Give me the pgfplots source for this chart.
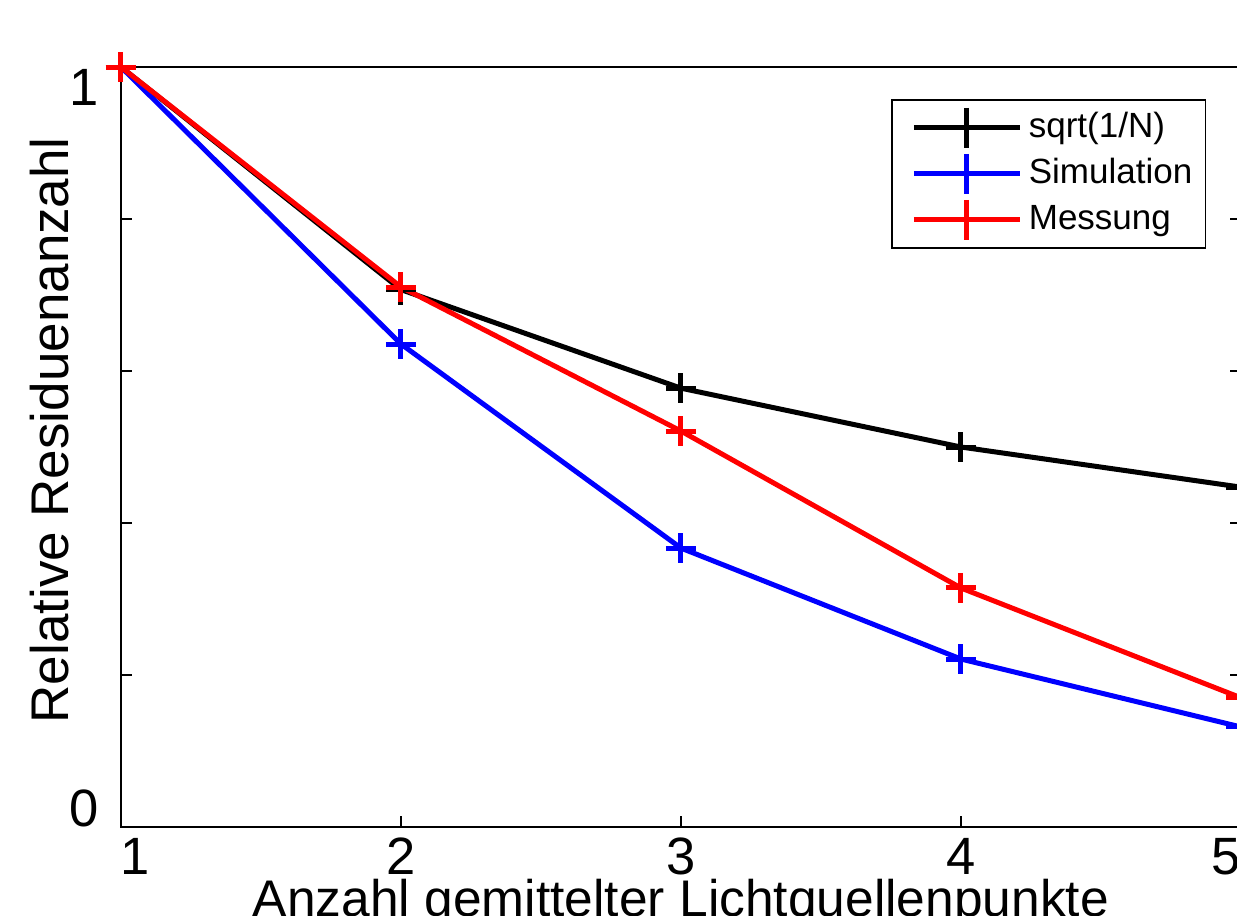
\documentclass[border=0pt]{standalone}
\usepackage{fontspec}
\setmainfont{Liberation Sans}
\usepackage{pgfplots}
\pgfplotsset{compat=1.18}
\begin{document}
\begin{tikzpicture}
\useasboundingbox (-24.2pt,-17.6pt) rectangle (223.2pt,165.4pt);
\clip (-24.2pt,-17.6pt) rectangle (223.2pt,165.4pt);
\begin{axis}[
  at={(0pt,0pt)}, anchor=south west,
  scale only axis, width=224pt, height=152pt,
  xmin=1, xmax=5, ymin=0, ymax=1,
  clip=false,
  axis line style={line width=0.3pt},
  every tick/.style={line width=0.3pt, black},
  tick align=inside,
  major tick length=2.2pt,
  xtick={1,2,3,4,5}, xtick pos=left,
  xticklabels={\rlap{1},2,3,4,\llap{5}},
  ytick={0,0.2,0.4,0.6,0.8,1}, ytick pos=both,
  yticklabels={\raisebox{3.8pt}[\height][\depth]{0},,,,,\raisebox{-4pt}[\height][\depth]{1}},
  yticklabel pos=left,
  xticklabel style={inner sep=0pt, yshift=-2pt, anchor=north},
  yticklabel style={inner sep=0pt, xshift=-4.2pt, anchor=east},
  tick label style={font=\fontsize{10.5}{12}\selectfont},
  /pgf/number format/assume math mode=true,
  xlabel={Anzahl gemittelter Lichtquellenpunkte},
  xlabel style={at={(axis description cs:0.5,0)}, anchor=base, yshift=-17.8pt, font=\fontsize{10.3}{12}\selectfont},
  ylabel={Relative Residuenanzahl},
  ylabel style={at={(axis description cs:-0.0473,0.522)}, anchor=base, rotate=0, font=\fontsize{10.6}{12}\selectfont},
  legend style={at={(0.9688,0.9579)}, anchor=north east, draw=black, line width=0.3pt,
    font=\fontsize{7}{8}\selectfont, inner xsep=1.3pt, inner ysep=1.6pt,
    nodes={inner xsep=1.3pt, inner ysep=0pt, text height=5.6pt, text depth=1.6pt},
    row sep=1.2pt, cells={anchor=west}},
  legend image code/.code={
    \path (-1pt,0pt);
    \draw[#1, mark size=4pt, mark repeat=2, mark phase=2] plot coordinates {(1.6pt,0pt) (12.2pt,0pt) (22.8pt,0pt)};
  },
]
\addplot[black, line width=1pt, mark=+, mark size=3pt] coordinates {(1,1) (2,0.7071) (3,0.5774) (4,0.5) (5,0.4472)};
\addplot[blue, line width=1pt, mark=+, mark size=3pt] coordinates {(1,1) (2,0.6355) (3,0.367) (4,0.221) (5,0.1316)};
\addplot[red, line width=1pt, mark=+, mark size=3pt] coordinates {(1,1) (2,0.7105) (3,0.521) (4,0.3145) (5,0.170)};
\legend{sqrt(1/N),Simulation,Messung}
\end{axis}
\end{tikzpicture}
\end{document}
